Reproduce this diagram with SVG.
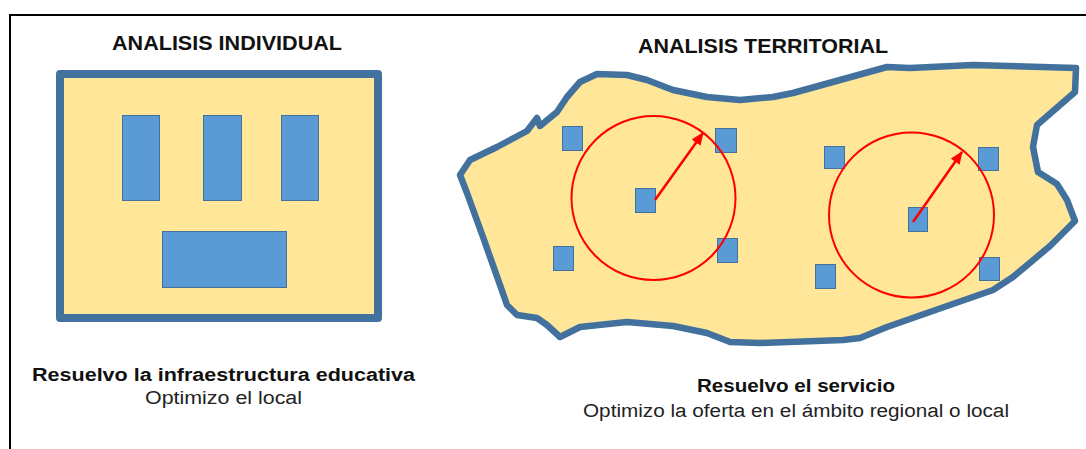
<svg xmlns="http://www.w3.org/2000/svg" width="1086" height="449" viewBox="0 0 1086 449">
<style>
.frame{fill:none;stroke:#000;stroke-width:2}
.land{fill:#FFE699;stroke:#41719C;stroke-linejoin:round;stroke-linecap:round}
.bld{fill:#5B9BD5;stroke:#41719C;stroke-width:1}
.ring{fill:none;stroke:#FF0000;stroke-width:2}
.ray{stroke:#FF0000;stroke-width:2.5;fill:none}
.title{font-family:"Liberation Sans",Arial,sans-serif;font-weight:bold;font-size:21px;fill:#111}
.cap{font-family:"Liberation Sans",Arial,sans-serif;font-weight:bold;font-size:18px;fill:#111}
.sub{font-family:"Liberation Sans",Arial,sans-serif;font-size:18px;fill:#222}
</style>
<defs>
<marker id="ah" viewBox="0 0 12 10" refX="11" refY="5" markerWidth="13" markerHeight="11" markerUnits="userSpaceOnUse" orient="auto">
<path d="M0,0 L12,5 L0,10 z" fill="#FF0000"/>
</marker>
</defs>
<rect width="1086" height="449" fill="#fff"/>
<path class="frame" d="M10,449 V15 H1086"/>

<g id="individual">
<text class="title" x="112" y="50" textLength="230" lengthAdjust="spacingAndGlyphs">ANALISIS INDIVIDUAL</text>
<rect class="land" x="60" y="74" width="318" height="244" stroke-width="8" stroke-linejoin="miter"/>
<rect class="bld" x="122.5" y="115.5" width="37" height="85"/>
<rect class="bld" x="203.5" y="115.5" width="38" height="85"/>
<rect class="bld" x="281.5" y="115.5" width="37" height="85"/>
<rect class="bld" x="162.5" y="231.5" width="124" height="56"/>
<text class="cap" x="32" y="381" textLength="383" lengthAdjust="spacingAndGlyphs">Resuelvo la infraestructura educativa</text>
<text class="sub" x="145" y="404" textLength="157" lengthAdjust="spacingAndGlyphs">Optimizo el local</text>
</g>

<g id="territorial">
<text class="title" x="638" y="53" textLength="250" lengthAdjust="spacingAndGlyphs">ANALISIS TERRITORIAL</text>
<path class="land" stroke-width="6.5" d="M597,74 L627,75 L647,80 L673,90 L707,97 L740,100 L773,97 L793,93 L840,80 L887,67 L910,68 L973,65 L1076,68 L1075,92 L1037,125 L1033,147 L1038,172 L1057,184 L1067,200 L1075,221 L1050,246 L1013,277 L993,290 L927,313 L887,327 L860,338 L843,340 L760,343 L730,342 L707,333 L673,326 L627,322 L580,327 L560,337 L547,325 L537,318 L517,315 L507,305 L500,285 L483,237 L467,193 L460,175 L470,160 L497,147 L527,131 L537,118 L540,126 L557,112 L567,97 L580,82 Z"/>
</g>

<g id="zone-1">
<rect class="bld" x="562.5" y="126.5" width="20" height="24"/>
<rect class="bld" x="715.5" y="128.5" width="21" height="24"/>
<rect class="bld" x="553.5" y="246.5" width="20" height="24"/>
<rect class="bld" x="717.5" y="238.5" width="20" height="24"/>
<rect class="bld" x="635.5" y="188.5" width="20" height="24"/>
<circle class="ring" cx="653.5" cy="198" r="82"/>
</g>

<g id="zone-2">
<rect class="bld" x="824.5" y="146.5" width="20" height="22"/>
<rect class="bld" x="978.5" y="147.5" width="20" height="23"/>
<rect class="bld" x="815.5" y="264.5" width="20" height="24"/>
<rect class="bld" x="979.5" y="257.5" width="20" height="23"/>
<rect class="bld" x="908.5" y="207.5" width="19" height="24"/>
<circle class="ring" cx="911.5" cy="215" r="82.5"/>
</g>

<g id="connectors">
<line class="ray" x1="655" y1="200" x2="703" y2="133" marker-end="url(#ah)"/>
<line class="ray" x1="913" y1="222" x2="962" y2="152" marker-end="url(#ah)"/>
</g>

<g id="captions">
<text class="cap" x="697" y="392" textLength="198" lengthAdjust="spacingAndGlyphs">Resuelvo el servicio</text>
<text class="sub" x="583" y="417" textLength="426" lengthAdjust="spacingAndGlyphs">Optimizo la oferta en el ámbito regional o local</text>
</g>
</svg>
